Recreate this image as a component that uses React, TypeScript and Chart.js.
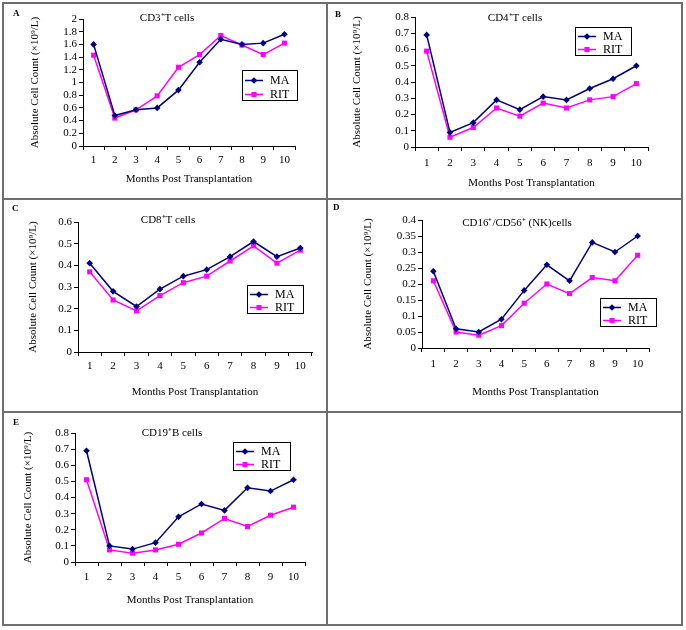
import React, { useEffect, useRef } from "react";
import { Chart, registerables } from "chart.js";

Chart.register(...registerables);

// ---------- data ----------
const months = ["1", "2", "3", "4", "5", "6", "7", "8", "9", "10"];
const seriesNames = ["MA", "RIT"];

const cd3MA = [1.6, 0.48, 0.57, 0.6, 0.88, 1.32, 1.68, 1.6, 1.62, 1.76];
const cd3RIT = [1.43, 0.44, 0.57, 0.79, 1.24, 1.44, 1.74, 1.59, 1.44, 1.62];

const cd4MA = [0.69, 0.09, 0.15, 0.29, 0.23, 0.31, 0.29, 0.36, 0.42, 0.5];
const cd4RIT = [0.59, 0.06, 0.12, 0.24, 0.19, 0.27, 0.24, 0.29, 0.31, 0.39];

const cd8MA = [0.41, 0.28, 0.21, 0.29, 0.35, 0.38, 0.44, 0.51, 0.44, 0.48];
const cd8RIT = [0.37, 0.24, 0.19, 0.26, 0.32, 0.35, 0.42, 0.49, 0.41, 0.47];

const nkMA = [0.24, 0.06, 0.05, 0.09, 0.18, 0.26, 0.21, 0.33, 0.3, 0.35];
const nkRIT = [0.21, 0.05, 0.04, 0.07, 0.14, 0.2, 0.17, 0.22, 0.21, 0.29];

const cd19MA = [0.69, 0.1, 0.08, 0.12, 0.28, 0.36, 0.32, 0.46, 0.44, 0.51];
const cd19RIT = [0.51, 0.075, 0.055, 0.075, 0.11, 0.18, 0.27, 0.22, 0.29, 0.34];

const yMaxes = [2, 0.8, 0.6, 0.4, 0.8];
const ySteps = [0.2, 0.1, 0.1, 0.05, 0.1];

const panelLetters = ["A", "B", "C", "D", "E"];
const panelTitles = [
  "CD3\u207AT cells",
  "CD4\u207AT cells",
  "CD8\u207AT cells",
  "CD16\u207A/CD56\u207A (NK)cells",
  "CD19\u207AB cells",
];
const xTitle = "Months Post Transplantation";
const yTitle = "Absolute Cell Count (\u00D710\u2079/L)";

// ---------- layout (absolute page coordinates) ----------
const FONT = "'Liberation Serif', 'Times New Roman', serif";
const LH = 11 * 1.2;

const panels = [
  {
    ma: cd3MA, rit: cd3RIT, idx: 0,
    cell: { x: 4, y: 4, w: 322, h: 194 },
    plot: { l: 83, r: 295, t: 19, b: 146 },
    xLabelY: 160, xTitleY: 179, yTitleX: 35,
    titlePos: [167, 18], letterPos: [13, 14], legend: [242, 70, 55, 30],
  },
  {
    ma: cd4MA, rit: cd4RIT, idx: 1,
    cell: { x: 328, y: 4, w: 353, h: 194 },
    plot: { l: 415, r: 648, t: 17, b: 147 },
    xLabelY: 163, xTitleY: 183, yTitleX: 357,
    titlePos: [515, 18], letterPos: [335, 15], legend: [575, 27, 56, 28],
  },
  {
    ma: cd8MA, rit: cd8RIT, idx: 2,
    cell: { x: 4, y: 200, w: 322, h: 211 },
    plot: { l: 78, r: 312, t: 222, b: 352 },
    xLabelY: 366, xTitleY: 392, yTitleX: 33,
    titlePos: [168, 220], letterPos: [12, 209], legend: [247, 285, 56, 28],
  },
  {
    ma: nkMA, rit: nkRIT, idx: 3,
    cell: { x: 328, y: 200, w: 353, h: 211 },
    plot: { l: 422, r: 649, t: 220, b: 348 },
    xLabelY: 364, xTitleY: 392, yTitleX: 368,
    titlePos: [517, 223], letterPos: [333, 208], legend: [600, 298, 56, 28],
  },
  {
    ma: cd19MA, rit: cd19RIT, idx: 4,
    cell: { x: 4, y: 413, w: 322, h: 211 },
    plot: { l: 75, r: 305, t: 433, b: 562 },
    xLabelY: 577, xTitleY: 600, yTitleX: 28,
    titlePos: [172, 433], letterPos: [13, 423], legend: [233, 442, 57, 28],
  },
];

const MA_COLOR = "#000080";
const RIT_COLOR = "#ff00ff";

function drawMarker(ctx: CanvasRenderingContext2D, style: string, x: number, y: number, r: number, color: string) {
  ctx.fillStyle = color;
  ctx.beginPath();
  if (style === "rectRot") {
    ctx.moveTo(x, y - r);
    ctx.lineTo(x + r, y);
    ctx.lineTo(x, y + r);
    ctx.lineTo(x - r, y);
    ctx.closePath();
  } else {
    const s = r * Math.SQRT1_2;
    ctx.rect(x - s, y - s, 2 * s, 2 * s);
  }
  ctx.fill();
}

const decorPlugin = {
  id: "panelDecor",
  afterDraw(chart: any, _args: any, opts: any) {
    const ctx: CanvasRenderingContext2D = chart.ctx;
    ctx.save();
    ctx.fillStyle = "#000";
    ctx.textBaseline = "middle";
    ctx.textAlign = "left";
    ctx.font = `bold 9px ${FONT}`;
    ctx.fillText(opts.letter, opts.letterX, opts.letterY);

    ctx.font = `11px ${FONT}`;
    ctx.textAlign = "center";
    ctx.fillText(opts.title, opts.titleX, opts.titleY);

    const lx = opts.legendX, ly = opts.legendY, lw = opts.legendW, lh = opts.legendH;
    ctx.fillStyle = "#fff";
    ctx.fillRect(lx, ly, lw, lh);
    ctx.strokeStyle = "#000";
    ctx.lineWidth = 1;
    ctx.strokeRect(lx + 0.5, ly + 0.5, lw, lh);
    const rows = [0.33, 0.8];
    chart.data.datasets.forEach((ds: any, i: number) => {
      const y = Math.round(ly + lh * rows[i]) + 0.5;
      ctx.strokeStyle = ds.borderColor;
      ctx.lineWidth = 1.5;
      ctx.beginPath();
      ctx.moveTo(lx + 3, y);
      ctx.lineTo(lx + 21, y);
      ctx.stroke();
      drawMarker(ctx, ds.pointStyle, lx + 12, y, ds.pointRadius, ds.backgroundColor);
      ctx.fillStyle = "#000";
      ctx.textAlign = "left";
      ctx.font = `12px ${FONT}`;
      ctx.fillText(ds.label, lx + 28, y);
    });
    ctx.restore();
  },
};

function Panel({ p }: { p: any }) {
  const ref = useRef<HTMLCanvasElement>(null);
  const c = p.cell;
  useEffect(() => {
    const font = { family: FONT, size: 11, lineHeight: 1.2 };
    const axisCommon = {
      grid: {
        display: true,
        drawOnChartArea: false,
        drawTicks: true,
        tickLength: 4,
        color: "#000",
        lineWidth: 1,
      },
      border: { display: true, color: "#000", width: 1 },
    };
    const chart = new Chart(ref.current as HTMLCanvasElement, {
      type: "line",
      data: {
        labels: months,
        datasets: [
          {
            label: seriesNames[0],
            data: p.ma,
            borderColor: MA_COLOR,
            backgroundColor: MA_COLOR,
            borderWidth: 1.5,
            pointStyle: "rectRot",
            pointRadius: 3.3,
            pointBorderWidth: 0,
            tension: 0,
          },
          {
            label: seriesNames[1],
            data: p.rit,
            borderColor: RIT_COLOR,
            backgroundColor: RIT_COLOR,
            borderWidth: 1.5,
            pointStyle: "rect",
            pointRadius: 3.6,
            pointBorderWidth: 0,
            tension: 0,
          },
        ],
      },
      options: {
        responsive: false,
        animation: false,
        devicePixelRatio: 1,
        layout: {
          padding: { left: 0, top: p.plot.t - c.y, right: c.x + c.w - p.plot.r, bottom: 0 },
        },
        plugins: {
          legend: { display: false },
          tooltip: { enabled: false },
          title: { display: false },
          panelDecor: {
            letter: panelLetters[p.idx],
            letterX: p.letterPos[0] - c.x,
            letterY: p.letterPos[1] - c.y,
            title: panelTitles[p.idx],
            titleX: p.titlePos[0] - c.x,
            titleY: p.titlePos[1] - c.y,
            legendX: p.legend[0] - c.x,
            legendY: p.legend[1] - c.y,
            legendW: p.legend[2],
            legendH: p.legend[3],
          },
        } as any,
        scales: {
          x: {
            type: "category",
            offset: true,
            ...axisCommon,
            grid: { ...axisCommon.grid, offset: true },
            ticks: {
              color: "#000",
              font,
              padding: p.xLabelY - p.plot.b - 4 - LH / 2,
              maxRotation: 0,
              autoSkip: false,
            },
            title: {
              display: true,
              text: xTitle,
              color: "#000",
              font,
              padding: { top: 0, bottom: c.y + c.h - p.xTitleY - LH / 2 },
            },
            afterFit: (s: any) => {
              s.height = c.y + c.h - p.plot.b;
            },
          },
          y: {
            type: "linear",
            min: 0,
            max: yMaxes[p.idx],
            ...axisCommon,
            ticks: {
              color: "#000",
              font,
              stepSize: ySteps[p.idx],
              autoSkip: false,
              padding: 2,
              callback: (v: any) => String(parseFloat(Number(v).toFixed(3))),
            },
            title: {
              display: true,
              text: yTitle,
              color: "#000",
              font,
              padding: { top: p.yTitleX - c.x - LH / 2, bottom: 0 },
            },
            afterFit: (s: any) => {
              s.width = p.plot.l - c.x;
            },
          },
        } as any,
      },
      plugins: [decorPlugin as any],
    });
    return () => chart.destroy();
  }, []);
  return (
    <canvas
      ref={ref}
      width={c.w}
      height={c.h}
      style={{ position: "absolute", left: c.x, top: c.y, width: c.w, height: c.h }}
    />
  );
}

const LINE = "#6e6e6e";
function Line({ x, y, w, h }: { x: number; y: number; w: number; h: number }) {
  return <div style={{ position: "absolute", left: x, top: y, width: w, height: h, background: LINE }} />;
}

export default function App() {
  return (
    <div style={{ position: "absolute", left: 0, top: 0, width: 686, height: 630, background: "#fff" }}>
      {panels.map((p, i) => (
        <Panel key={i} p={p} />
      ))}
      <Line x={2} y={2} w={681} h={2} />
      <Line x={2} y={624} w={681} h={2} />
      <Line x={2} y={2} w={2} h={624} />
      <Line x={681} y={2} w={2} h={624} />
      <Line x={326} y={2} w={2} h={624} />
      <Line x={2} y={198} w={681} h={2} />
      <Line x={2} y={411} w={681} h={2} />
    </div>
  );
}
